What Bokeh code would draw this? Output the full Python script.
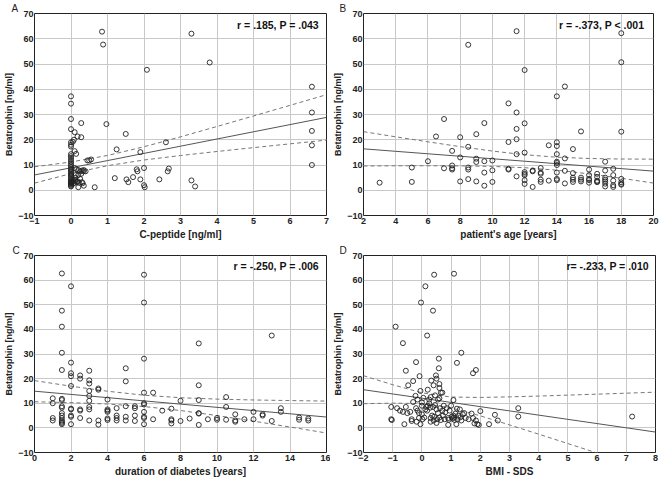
from bokeh.plotting import figure
from bokeh.layouts import column, row
from bokeh.models import Label, FixedTicker, Range1d, Title
from bokeh.embed import file_html
from bokeh.resources import INLINE

# ---------------- data ----------------
# Panel A: C-peptide vs betatrophin
a_x = [0.85, 0.88, 3.3, 3.8, 2.08, 6.6, 6.6, 6.6, 6.6, 6.6, 0.28, 0.97, 1.5, 0.28, 0.18, 0.1,
       2.6, 1.25, 1.9, 0.14, 0.1, 0.45, 0.5, 0.55, 2.0, 1.8, 1.82, 2.68, 2.65, 1.2, 1.52, 1.57,
       1.7, 1.9, 2.0, 2.02, 2.42, 3.3, 3.4, 0.65, 0.2, 0.35, 0.3, 0.25, 0.3, 0.35, 0.2, 0.15,
       0.1, 0.28, 0.12, 0.25, 0.18, 0.22, 0.15, 0.1, 0.13, 0.32, 0.08, 0.05, 0.35, 0.4, 0.2,
       0, 0, 0, 0, 0, 0, 0, 0, 0, 0, 0, 0, 0, 0, 0, 0, 0, 0, 0, 0, 0, 0, 0, 0, 0, 0, 0, 0, 0,
       0, 0, 0, 0, 0.05, 0.08, 0.12, 0.06]
a_y = [62.8, 57.7, 62.0, 50.6, 47.7, 41.0, 30.8, 23.5, 17.8, 10.0, 26.6, 26.2, 22.3, 21.0, 21.3, 23.0,
       19.0, 16.2, 15.1, 14.4, 15.5, 11.8, 11.8, 12.2, 8.8, 8.3, 7.5, 8.6, 7.5, 4.8, 4.3, 3.2,
       5.2, 4.3, 2.0, 1.2, 4.3, 3.9, 1.5, 1.2, 1.2, 1.8, 3.2, 7.5, 7.8, 7.5, 8.0, 8.3,
       8.8, 6.5, 5.0, 4.5, 3.5, 3.0, 3.3, 3.0, 6.0, 2.8, 20.0, 19.2, 8.0, 7.5, 6.0,
       37.2, 34.3, 28.2, 24.2, 19.0, 18.0, 17.3, 14.3, 13.5, 12.8, 12.0, 11.2, 10.5, 9.8, 9.2, 8.5,
       8.0, 7.5, 7.0, 6.5, 6.0, 5.5, 5.0, 4.5, 4.0, 3.5, 3.2, 3.0, 2.8, 2.5, 2.2, 1.8, 1.5,
       3.6, 4.2, 3.8, 2.6]
a_fit_x = [-1, 0, 1, 2, 3, 4, 5, 6, 7]
a_fit = [6.05, 8.9, 11.75, 14.6, 17.45, 20.3, 23.15, 26.0, 28.85]
a_upper = [9.29, 11.2, 13.77, 17.22, 21.15, 25.25, 29.42, 33.62, 37.85]
a_lower = [2.81, 6.6, 9.73, 11.98, 13.75, 15.35, 16.88, 18.38, 19.85]

# Panel B: patient's age vs betatrophin
b_x = [3, 5, 5, 6, 6.5, 7, 7, 7.5, 7.5, 7.5, 7.5, 8, 8, 8, 8.5, 8.5, 8.5, 8.5, 8.5, 9, 9, 9, 9,
       9.5, 9.5, 9.5, 9.5, 10, 10, 10, 11, 11, 11, 11, 11.5, 11.5, 11.5, 11.5, 11.5, 11.5,
       12, 12, 12, 12, 12, 12, 12, 12, 12.5, 12.5, 12.5, 13, 13, 13, 13, 13, 13.5, 13.5,
       14, 14, 14, 14, 14, 14, 14, 14, 14, 14, 14.5, 14.5, 14.5, 14.5, 15, 15, 15, 15, 15,
       15.5, 15.5, 15.5, 15.5, 16, 16, 16, 16, 16, 16.5, 16.5, 16.5, 16.5, 16.5,
       17, 17, 17, 17, 17, 17, 17, 17.5, 17.5, 17.5, 17.5, 17.5, 18, 18, 18, 18, 18, 18, 18]
b_y = [3.0, 9.0, 3.3, 11.5, 21.3, 28.2, 8.7, 15.6, 9.8, 8.2, 8.7, 21.0, 13.0, 3.5, 57.6, 17.2, 9.0, 8.2, 4.4,
       22.2, 12.5, 11.2, 3.5, 26.6, 11.5, 7.0, 1.8, 11.8, 7.9, 3.3, 34.4, 19.1, 8.5, 8.2,
       63.0, 30.8, 24.3, 20.2, 14.3, 5.5, 47.6, 26.5, 14.9, 7.2, 6.5, 6.0, 4.0, 2.5, 7.5, 7.8, 1.3,
       8.8, 7.0, 6.5, 4.2, 3.3, 17.8, 3.8, 37.2, 19.0, 17.5, 14.3, 11.3, 10.8, 10.0, 7.0, 4.5, 4.0,
       41.1, 12.6, 7.7, 2.7, 16.3, 6.8, 5.0, 4.2, 3.3, 23.3, 5.0, 4.2, 3.5, 8.2, 6.0, 4.5, 4.0, 3.0,
       6.5, 5.3, 3.8, 3.5, 3.2, 11.3, 7.8, 5.0, 4.2, 3.5, 2.6, 1.5, 8.5, 6.0, 3.8, 2.0, 1.3,
       62.2, 50.7, 23.2, 4.5, 3.2, 2.5, 2.2]
b_fit_x = [2, 4, 6, 8, 10, 12, 14, 16, 18, 20]
b_fit = [16.4, 15.42, 14.44, 13.46, 12.48, 11.5, 10.52, 9.54, 8.56, 7.58]
b_upper = [23.2, 21.16, 19.18, 17.27, 15.52, 14.07, 13.09, 12.58, 12.37, 12.32]
b_lower = [9.6, 9.68, 9.70, 9.65, 9.44, 8.93, 7.95, 6.50, 4.75, 2.84]

# Panel C: duration of diabetes vs betatrophin
c_x = [1.5, 2, 6, 6, 1.5, 1.5, 9, 13, 1.5, 6, 2, 1.5, 3, 5, 2, 2, 2.5, 2.5, 3, 3, 5, 2, 9, 3.5,
       3.5, 3, 6, 6.5, 3, 10.5, 1, 1.5, 1.5, 4, 8, 9, 1, 3, 6, 6, 1.5, 1.5, 2, 2, 2.5, 2.5, 3, 3,
       4, 4, 4, 4.5, 5, 5.5, 5.5, 6, 7, 7.5, 10.5, 12, 12.5, 12.5, 13.5, 13.5, 11, 1, 1, 1.5, 1.5,
       1.5, 1.5, 1.5, 1.5, 1.5, 2, 2, 2, 2.5, 3, 3.5, 3.5, 4, 4, 4.5, 4.5, 4.5, 5, 5, 5.5, 5.5,
       6, 6, 6, 6.5, 7.5, 7.5, 7.5, 8, 8.5, 9, 9, 9, 9.5, 10, 10, 10.5, 11, 11, 11.5, 12, 13,
       14.5, 14.5, 15, 15]
c_y = [62.7, 57.5, 62.2, 50.9, 47.6, 41.1, 34.3, 37.5, 30.5, 28.1, 26.5, 23.5, 23.2, 24.2, 22.2, 21.0,
       21.3, 20.0, 19.3, 18.0, 18.9, 17.0, 17.3, 16.0, 15.5, 15.0, 14.3, 14.3, 13.0, 12.5, 12.0, 11.8,
       11.3, 11.5, 11.0, 11.3, 10.0, 11.0, 10.0, 9.5, 8.8, 8.2, 7.8, 7.5, 7.5, 7.0, 8.5, 7.5, 7.5, 7.0,
       6.5, 8.0, 8.8, 8.8, 8.0, 6.5, 7.0, 7.8, 8.5, 6.5, 5.5, 5.0, 8.0, 6.5, 5.5, 4.0, 3.0, 6.0, 5.0,
       4.0, 3.0, 2.5, 2.0, 1.5, 5.0, 4.5, 1.5, 4.0, 3.0, 3.0, 1.3, 3.8, 3.2, 5.0, 4.0, 3.0, 4.5, 3.0,
       5.0, 2.8, 4.5, 4.0, 1.5, 3.5, 3.5, 3.0, 1.8, 2.8, 3.8, 6.0, 5.8, 1.2, 3.5, 4.0, 3.3, 3.3, 3.0,
       2.5, 3.5, 3.5, 2.8, 4.2, 3.3, 3.8, 3.0]
c_fit_x = [0, 2, 4, 6, 8, 10, 12, 14, 16]
c_fit = [14.9, 13.59, 12.28, 10.96, 9.65, 8.34, 7.03, 5.72, 4.40]
c_upper = [19.2, 16.93, 14.88, 13.26, 12.25, 11.68, 11.33, 11.09, 10.88]
c_lower = [10.6, 10.25, 9.68, 8.66, 7.05, 5.0, 2.73, 0.35, -2.08]

# Panel D: BMI-SDS vs betatrophin
d_x = [0.42, 1.1, 0.12, -0.03, 0.38, -0.9, 0.18, -0.65, 1.35, 0.58, -0.2, 1.2, 0.58, 1.85, -0.55,
       1.75, 0.48, -0.08, 0.5, 0.32, -0.3, 0.4, -0.47, 0.6, 0.6, 0.2, -0.05, 0.65, 0.7, 0.45, -0.22,
       0.3, 0.05, 0.6, -0.15, 0.25, 0.55, 1.08, -0.3, 0.0, 2.0, 2.5, 2.6, 2.3, 3.3, 3.3, 7.2,
       -1.05, -1.05, -1.03, -0.6, 1.85, 1.9, 1.95,
       -0.85, -0.75, -0.65, -0.55, -0.5, -0.4, -0.35, -0.35, -0.2, -0.15, -0.1, -0.1, -0.18, -0.05,
       0.0, 0.0, 0.02, 0.08, 0.12, 0.15, 0.18, 0.2, 0.25, 0.28, 0.3, 0.35, 0.38, 0.4, 0.42, 0.45,
       0.5, 0.52, 0.55, 0.6, 0.62, 0.65, 0.7, 0.72, 0.75, 0.78, 0.8, 0.85, 0.9, 0.92, 0.95, 1.0,
       1.02, 1.05, 1.08, 1.1, 1.12, 1.15, 1.18, 1.2, 1.22, 1.25, 1.3, 1.32, 1.35, 1.4, 1.45, 1.5,
       1.6, 1.7, 1.75, 1.8, 0.3, 0.5, 0.9]
d_y = [62.2, 62.6, 57.5, 50.9, 47.6, 41.1, 37.5, 34.4, 30.5, 28.1, 26.7, 26.4, 24.2, 23.5, 23.2,
       22.2, 21.3, 21.0, 20.0, 19.2, 19.0, 17.3, 17.3, 17.8, 16.2, 15.5, 15.0, 14.3, 14.3, 13.2, 13.0,
       12.5, 12.2, 12.0, 11.5, 11.5, 11.5, 11.3, 10.5, 10.3, 6.8, 5.3, 3.0, 1.5, 8.0, 4.6, 4.6,
       8.5, 3.5, 3.2, 1.5, 3.0, 1.5, 1.2,
       8.0, 7.0, 6.5, 8.5, 6.0, 6.5, 3.5, 2.8, 8.0, 7.0, 6.0, 4.0, 2.5, 1.5,
       9.0, 5.5, 3.5, 4.2, 7.5, 8.5, 7.0, 9.0, 10.0, 8.2, 4.0, 5.0, 8.5, 3.0, 4.5, 9.3,
       7.5, 3.5, 6.0, 4.2, 8.0, 3.2, 7.0, 5.0, 9.0, 3.5, 6.3, 8.0, 4.0, 3.3, 7.0, 9.0,
       4.5, 3.8, 5.0, 4.2, 3.2, 5.8, 1.5, 7.8, 3.5, 5.0, 7.5, 4.3, 3.0, 5.5, 6.0, 4.0,
       3.5, 5.8, 4.0, 1.8, 2.5, 2.0, 1.2]
d_fit_x = [-2, -1, 0, 1, 2, 3, 4, 5, 6, 7, 8]
d_fit = [15.5, 13.78, 12.06, 10.34, 8.62, 6.9, 5.18, 3.46, 1.74, 0.02, -1.7]
d_upper = [21.19, 17.52, 14.24, 12.52, 12.36, 12.59, 12.92, 13.30, 13.69, 14.09, 14.5]
d_lower = [9.81, 10.04, 9.88, 8.16, 4.88, 1.21, -2.56, -6.38, -10.21, -14.05, -17.9]

y_ticks = [-10, 0, 10, 20, 30, 40, 50, 60, 70]
a_ticks = [-1, 0, 1, 2, 3, 4, 5, 6, 7]
b_ticks = [2, 4, 6, 8, 10, 12, 14, 16, 18, 20]
c_ticks = [0, 2, 4, 6, 8, 10, 12, 14, 16]
d_ticks = [-2, -1, 0, 1, 2, 3, 4, 5, 6, 7, 8]

FONT = "Liberation Sans"


def panel(w, h, borders, xr, xticks, xlabel, xs, ys, fx, fy, fu, fl, stat, stat_pos,
          letter, letter_offset):
    bl, br, bt, bb = borders
    p = figure(width=w, height=h, output_backend="svg", toolbar_location=None,
               x_range=Range1d(*xr), y_range=Range1d(-10, 70),
               min_border_left=bl, min_border_right=br, min_border_top=bt, min_border_bottom=bb)
    p.outline_line_color = "#222222"
    p.outline_line_width = 1
    p.background_fill_color = "white"
    p.border_fill_color = "white"
    p.xaxis.ticker = FixedTicker(ticks=xticks)
    p.yaxis.ticker = FixedTicker(ticks=y_ticks)
    for ax in (p.xaxis[0], p.yaxis[0]):
        ax.axis_line_color = None
        ax.major_tick_out = 0
        ax.major_tick_in = 0
        ax.minor_tick_out = 0
        ax.minor_tick_in = 0
        ax.major_label_text_font = FONT
        ax.major_label_text_font_size = "9px"
        ax.major_label_text_font_style = "bold"
        ax.major_label_text_color = "#222222"
        ax.major_label_standoff = 2
        ax.axis_label_text_font = FONT
        ax.axis_label_text_font_style = "bold"
        ax.axis_label_text_color = "#222222"
        ax.axis_label_standoff = 2
    p.yaxis.major_label_standoff = 1
    p.yaxis.axis_label_standoff = 1
    p.xaxis.axis_label_text_font_size = "10px"
    p.yaxis.axis_label_text_font_size = "9px"
    p.xaxis.axis_label = xlabel
    p.yaxis.axis_label = "Betatrophin [ng/ml]"
    p.xgrid.grid_line_color = "#c8c8c8"
    p.ygrid.grid_line_color = "#c8c8c8"
    p.xgrid.grid_line_width = 1
    p.ygrid.grid_line_width = 1

    p.line(fx, fu, line_color="#777777", line_width=1, line_dash="4 3")
    p.line(fx, fl, line_color="#777777", line_width=1, line_dash="4 3")
    p.line(fx, fy, line_color="#555555", line_width=1)
    p.scatter(xs, ys, marker="circle", size=5, fill_color=None,
              line_color="#222222", line_width=0.9)

    p.add_layout(Label(x=stat_pos[0], y=stat_pos[1], text=stat, text_align="right",
                       text_baseline="middle", text_font=FONT, text_font_size="10.5px",
                       text_font_style="bold", text_color="#111111"))
    p.add_layout(Title(text=letter, align="left", offset=letter_offset, standoff=0,
                       text_font=FONT, text_font_size="10px", text_font_style="normal",
                       text_color="#222222", text_line_height=0.8), "above")
    return p


pA = panel(330, 242, (34, 4, 0, 24), (-1, 7), a_ticks, "C-peptide [ng/ml]",
           a_x, a_y, a_fit_x, a_fit, a_upper, a_lower,
           "r = .185, P = .043", (6.79, 65.3), "A", -23)
pB = panel(331, 242, (32, 8, 0, 24), (2, 20), b_ticks, "patient's age [years]",
           b_x, b_y, b_fit_x, b_fit, b_upper, b_lower,
           "r = -.373, P < .001", (19.42, 65.3), "B", -24)
pC = panel(330, 242, (34, 4, 0, 30), (0, 16), c_ticks, "duration of diabetes [years]",
           c_x, c_y, c_fit_x, c_fit, c_upper, c_lower,
           "r = -.250, P = .006", (15.58, 65.8), "C", -22)
pD = panel(331, 242, (33, 6, 0, 32), (-2, 8), d_ticks, "BMI - SDS",
           d_x, d_y, d_fit_x, d_fit, d_upper, d_lower,
           "r= -.233, P = .010", (7.77, 65.9), "D", -24)

layout = column(row(pA, pB), row(pC, pD))
open("out.html", "w").write(file_html(layout, INLINE))
